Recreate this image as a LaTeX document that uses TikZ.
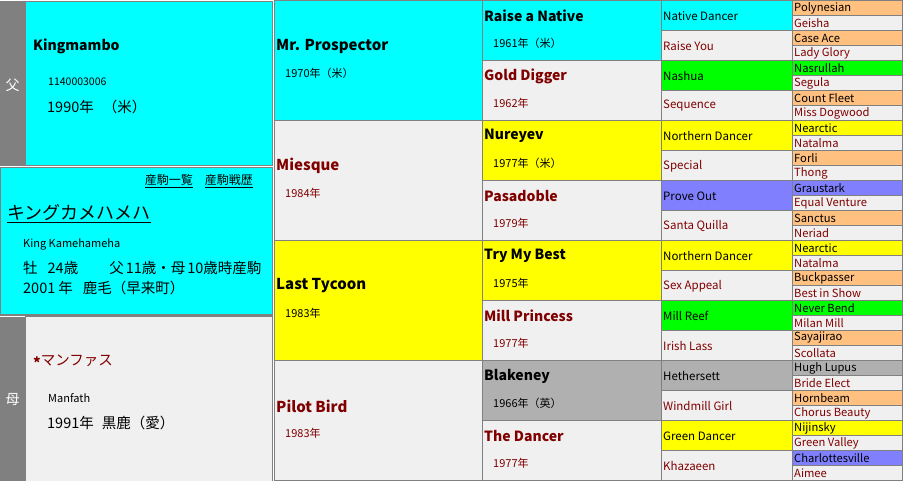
\documentclass[tikz,border=0pt]{standalone}
\usepackage{fontspec}
\setmainfont{Noto Sans CJK JP}
\definecolor{aqua}{HTML}{00FFFF}
\definecolor{pale}{HTML}{F0F0F0}
\definecolor{lemon}{HTML}{FFFF00}
\definecolor{lime}{HTML}{00FF00}
\definecolor{lilac}{HTML}{8080FF}
\definecolor{peach}{HTML}{FFC080}
\definecolor{stone}{HTML}{B0B0B0}
\definecolor{rule}{HTML}{808080}
\definecolor{mare}{HTML}{800000}

\begin{document}
\begin{tikzpicture}[x=1pt,y=-1pt,
		every node/.style={inner sep=0pt,anchor=west},
		cell/.style={draw=rule,line width=1pt},
		gen1/.style={font=\fontsize{15}{15}\selectfont\bfseries},
		gen2/.style={font=\fontsize{14}{14}\selectfont\bfseries},
		year/.style={font=\fontsize{11}{11}\selectfont},
		gen3/.style={font=\fontsize{11.5}{12}\selectfont},
		gen4/.style={font=\fontsize{11.2}{12}\selectfont},
		side/.style={text=white,anchor=center,font=\fontsize{14}{14}\selectfont},
		big/.style={font=\fontsize{14.5}{15}\selectfont},
		small/.style={font=\fontsize{10.5}{11}\selectfont}]
	\useasboundingbox (0,0) rectangle (903,481);

	% sire
	\fill[rule] (0,1) rectangle (25,166);
	\filldraw[fill=aqua,draw=rule] (25,1) rectangle (272.5,165.5);
	\node[side] (fa) at (12.5,85) {父};
	\node[gen2] (sire) at (33,46) {Kingmambo};
	\node[small] (sireno) at (48,82) {1140003006};
	\node[big] (sirey) at (47,107) {1990年\hspace{9pt}（米）};

	% horse
	\filldraw[fill=aqua,draw=rule] (0.5,167.5) rectangle (272.5,314);
	\draw[rule,line width=2pt] (0,315) -- (273,315);
	\node[anchor=east,font=\fontsize{12}{12}\selectfont] (links) at (253,181)
		{\underline{産駒一覧}\hspace{12pt}\underline{産駒戦歴}};
	\node[font=\fontsize{18}{18}\selectfont] (horse) at (7,214) {\underline{キングカメハメハ}};
	\node[font=\fontsize{11}{11}\selectfont] (horseen) at (23,244) {King Kamehameha};
	\node[big] (horseage) at (23,268)
		{牡\hspace{10pt}24歳\hspace{31pt}父\hspace{2pt}11歳・母\hspace{2pt}10歳時産駒};
	\node[big] (horsey) at (23,288) {2001\hspace{3pt}年\hspace{10pt}鹿毛（早来町）};

	% dam
	\fill[rule] (0,317) rectangle (25,481);
	\filldraw[fill=pale,draw=rule] (25,316.5) rectangle (272.5,481);
	\node[side] (ha) at (12.5,400) {母};
	\node[big,text=mare] (dam) at (33,362) {\textbf{\raisebox{-3pt}{*}}マンファス};
	\node[font=\fontsize{11}{11}\selectfont] (damen) at (48,398) {Manfath};
	\node[big] (damy) at (47,423) {1991年\hspace{8pt}黒鹿（愛）};

	% first generation
	\foreach \sire/\sy/\bg/\dam/\dy [count=\i from 0] in {
		Mr. Prospector/1970年（米）/aqua/Miesque/1984年,
		Last Tycoon/1983年/lemon/Pilot Bird/1983年}{
		\filldraw[cell,fill=\bg] (274,0.5+240*\i) rectangle (482,120.5+240*\i);
		\filldraw[cell,fill=pale] (274,120.5+240*\i) rectangle (482,240.5+240*\i);
		\node[gen1] (s1-\i) at (276,46+240*\i) {\sire};
		\node[year] (sy1-\i) at (285,73+240*\i) {\sy};
		\node[gen1,text=mare] (d1-\i) at (276,166+240*\i) {\dam};
		\node[year,text=mare] (dy1-\i) at (285,193+240*\i) {\dy};
	}

	% second generation
	\foreach \sire/\sy/\bg/\dam/\dy [count=\i from 0] in {
		Raise a Native/1961年（米）/aqua/Gold Digger/1962年,
		Nureyev/1977年（米）/lemon/Pasadoble/1979年,
		Try My Best/1975年/lemon/Mill Princess/1977年,
		Blakeney/1966年（英）/stone/The Dancer/1977年}{
		\filldraw[cell,fill=\bg] (482,0.5+120*\i) rectangle (661,60.5+120*\i);
		\filldraw[cell,fill=pale] (482,60.5+120*\i) rectangle (661,120.5+120*\i);
		\node[gen2] (s2-\i) at (484,16+120*\i) {\sire};
		\node[year] (sy2-\i) at (493,43+120*\i) {\sy};
		\node[gen2,text=mare] (d2-\i) at (484,76+120*\i) {\dam};
		\node[year,text=mare] (dy2-\i) at (493,103+120*\i) {\dy};
	}

	% third generation
	\foreach \sire/\bg/\dam [count=\i from 0] in {
		Native Dancer/aqua/Raise You, Nashua/lime/Sequence,
		Northern Dancer/lemon/Special, Prove Out/lilac/Santa Quilla,
		Northern Dancer/lemon/Sex Appeal, Mill Reef/lime/Irish Lass,
		Hethersett/stone/Windmill Girl, Green Dancer/lemon/Khazaeen}{
		\filldraw[cell,fill=\bg] (661,0.5+60*\i) rectangle (792,30.5+60*\i);
		\filldraw[cell,fill=pale] (661,30.5+60*\i) rectangle (792,60.5+60*\i);
		\node[gen3] (s3-\i) at (663,16+60*\i) {\sire};
		\node[gen3,text=mare] (d3-\i) at (663,46+60*\i) {\dam};
	}

	% fourth generation
	\foreach \sire/\bg/\dam [count=\i from 0] in {
		Polynesian/peach/Geisha, Case Ace/peach/Lady Glory,
		Nasrullah/lime/Segula, Count Fleet/peach/Miss Dogwood,
		Nearctic/lemon/Natalma, Forli/peach/Thong,
		Graustark/lilac/Equal Venture, Sanctus/peach/Neriad,
		Nearctic/lemon/Natalma, Buckpasser/peach/Best in Show,
		Never Bend/lime/Milan Mill, Sayajirao/peach/Scollata,
		Hugh Lupus/stone/Bride Elect, Hornbeam/peach/Chorus Beauty,
		Nijinsky/lemon/Green Valley, Charlottesville/lilac/Aimee}{
		\filldraw[cell,fill=\bg] (792,0.5+30*\i) rectangle (902,15.5+30*\i);
		\filldraw[cell,fill=pale] (792,15.5+30*\i) rectangle (902,30.5+30*\i);
		\node[gen4] (s4-\i) at (794,8+30*\i) {\sire};
		\node[gen4,text=mare] (d4-\i) at (794,23+30*\i) {\dam};
	}
\end{tikzpicture}
\end{document}
